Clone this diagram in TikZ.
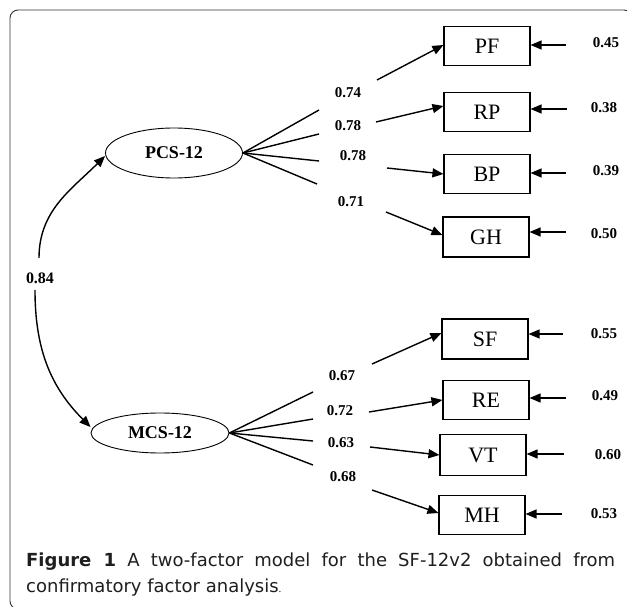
\documentclass[tikz,border=0pt]{standalone}
\usepackage{fontspec}
\setmainfont{Liberation Serif}
\newfontfamily\capfont{DejaVu Sans}
\usetikzlibrary{shapes.geometric,arrows.meta}
\begin{document}
\begin{tikzpicture}[x=1pt,y=-1pt,
  lat/.style={ellipse,draw,line width=0.9pt,inner sep=0pt,font=\bfseries\fontsize{18}{18}\selectfont},
  obs/.style={rectangle,draw,line width=1.1pt,minimum width=86pt,minimum height=39pt,inner sep=0pt,font=\fontsize{22}{22}\selectfont},
  num/.style={inner sep=0pt,font=\bfseries\fontsize{15}{15}\selectfont},
  ln/.style={line width=1.4pt},
  arr/.style={ln,-{Triangle[length=11pt,width=9pt]}},
  frame/.style={draw=black!80,line width=0.9pt,rounded corners=8pt},
  captxt/.style={anchor=base west,inner sep=0pt,font=\capfont\fontsize{18}{18}\selectfont,text=black!88}]
\useasboundingbox (0,0) rectangle (627,607);
\fill[white] (0,0) rectangle (627,607);
\draw[frame] (10,10) rectangle (632,609);

% latent factors
\node[lat,minimum width=137pt,minimum height=50pt] (pcs) at (174,153) {PCS-12};
\node[lat,minimum width=138pt,minimum height=40pt] (mcs) at (160,433) {MCS-12};

% observed variables
\node[obs] (pf) at (487,46) {PF};
\node[obs] (rp) at (487,112) {RP};
\node[obs] (bp) at (487,174) {BP};
\node[obs,minimum height=40pt] (gh) at (486,237) {GH};
\node[obs,minimum height=40pt] (sf) at (485,339) {SF};
\node[obs] (re) at (486,400) {RE};
\node[obs,minimum height=41pt] (vt) at (483,455) {VT};
\node[obs] (mh) at (482,515) {MH};

% loadings labels
\node[num] (lpf) at (348,93) {0.74};
\node[num] (lrp) at (348,126) {0.78};
\node[num] (lbp) at (353,156) {0.78};
\node[num] (lgh) at (351,202) {0.71};
\node[num] (lsf) at (342,376) {0.67};
\node[num] (lre) at (340,411) {0.72};
\node[num] (lvt) at (341,443) {0.63};
\node[num] (lmh) at (343,477) {0.68};

% break points of loading lines
\coordinate (apf) at (319,110); \coordinate (bpf) at (377,80);
\coordinate (arp) at (319,134); \coordinate (brp) at (376,122);
\coordinate (abp) at (319,161); \coordinate (bbp) at (387,168);
\coordinate (agh) at (317,184); \coordinate (bgh) at (386,212);
\coordinate (asf) at (313,392); \coordinate (bsf) at (372,364);
\coordinate (are) at (313,419); \coordinate (bre) at (369,412);
\coordinate (avt) at (313,441); \coordinate (bvt) at (370,447);
\coordinate (amh) at (313,465); \coordinate (bmh) at (372,490);

\draw[ln] (pcs.east) -- (apf);
\draw[ln] (pcs.east) -- (arp);
\draw[ln] (pcs.east) -- (abp);
\draw[ln] (pcs.east) -- (agh);
\draw[arr] (bpf) -- ([yshift=1pt]pf.west);
\draw[arr] (brp) -- ([yshift=6pt]rp.west);
\draw[arr] (bbp) -- (bp.west);
\draw[arr] (bgh) -- ([yshift=2pt]gh.west);

\draw[ln] (mcs.east) -- (asf);
\draw[ln] (mcs.east) -- (are);
\draw[ln] (mcs.east) -- (avt);
\draw[ln] (mcs.east) -- (amh);
\draw[arr] (bsf) -- ([yshift=6pt]sf.west);
\draw[arr] (bre) -- (re.west);
\draw[arr] (bvt) -- (vt.west);
\draw[arr] (bmh) -- ([yshift=2pt]mh.west);

% error terms
\node[num] (epf) at (606,43) {0.45};
\node[num] (erp) at (604,108) {0.38};
\node[num] (ebp) at (606,171) {0.39};
\node[num] (egh) at (604,234) {0.50};
\node[num] (esf) at (604,334) {0.55};
\node[num] (ere) at (605,396) {0.49};
\node[num] (evt) at (608,455) {0.60};
\node[num] (emh) at (604,514) {0.53};
\coordinate (cpf) at (566,45);
\coordinate (crp) at (567,109);
\coordinate (cbp) at (566,173);
\coordinate (cgh) at (566,232);
\coordinate (csf) at (563,334);
\coordinate (cre) at (566,398);
\coordinate (cvt) at (564,454);
\coordinate (cmh) at (562,514);
\draw[arr] (cpf) -- (cpf -| pf.east);
\draw[arr] (crp) -- (crp -| rp.east);
\draw[arr] (cbp) -- (cbp -| bp.east);
\draw[arr] (cgh) -- (cgh -| gh.east);
\draw[arr] (csf) -- (csf -| sf.east);
\draw[arr] (cre) -- (cre -| re.east);
\draw[arr] (cvt) -- (cvt -| vt.east);
\draw[arr] (cmh) -- (cmh -| mh.east);

% correlation
\node[inner sep=0pt,font=\bfseries\fontsize{16}{16}\selectfont] (cor) at (40,278) {0.84};
\coordinate (cu) at (39,258);
\coordinate (cd) at (35,290);
\draw[arr] (cu) to[out=90,in=225] ([yshift=-3pt]pcs.west);
\draw[arr] (cd) to[out=-90,in=135] ([yshift=6pt]mcs.west);

% caption
\node[captxt] (cap1) at (26,566)
  {\hbox to 589pt{\textbf{Figure 1} A two-factor model for the SF-12v2 obtained from}};
\node[captxt] (cap2) at (26,592)
  {confirmatory factor analysis{\rmfamily\fontsize{11}{11}\selectfont.}};
\end{tikzpicture}
\end{document}
